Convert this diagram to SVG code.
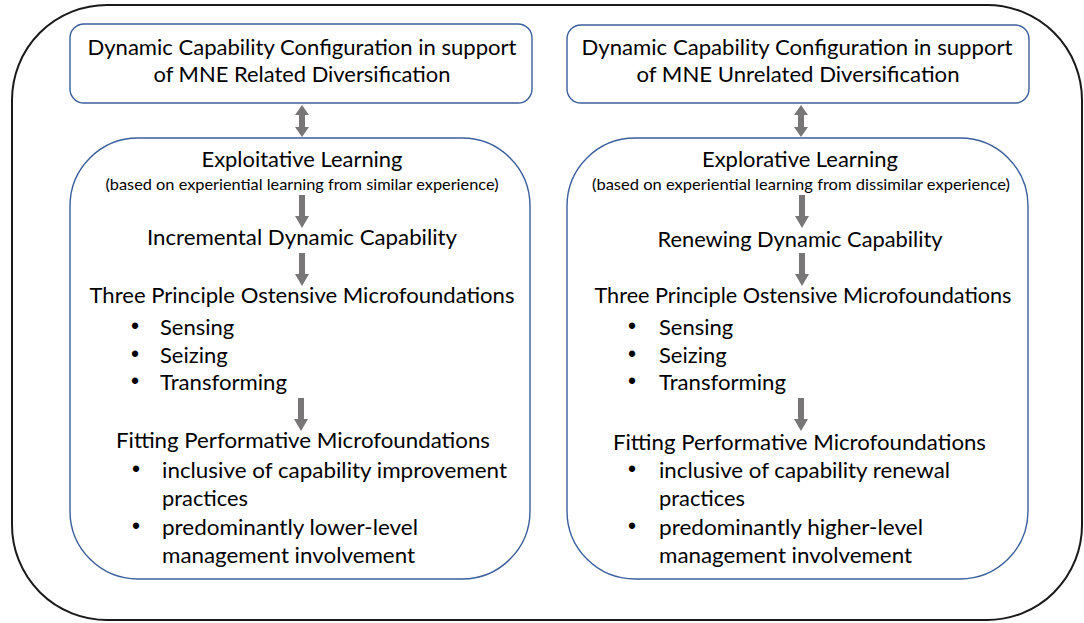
<svg xmlns="http://www.w3.org/2000/svg" xmlns:xlink="http://www.w3.org/1999/xlink" width="1084" height="623" viewBox="0 0 1084 623">
<style>
  .outer { fill: #ffffff; stroke: #1a1a1a; stroke-width: 2; }
  .box { fill: #ffffff; stroke: #3b5e9c; stroke-width: 1.4; }
  .t { font-family: Lato, "Liberation Sans", sans-serif; font-size: 22px; fill: #000000; }
  .s { font-family: Lato, "Liberation Sans", sans-serif; font-size: 15px; fill: #000000; }
  .b { font-family: "Liberation Sans", sans-serif; font-size: 23px; fill: #000000; text-anchor: middle; }
  .c { text-anchor: middle; }
  .arr { fill: #787676; }
</style>
<defs>
  <path id="down" d="M-3,0 H3 V21 H7 L0,33 L-7,21 H-3 Z"/>
  <path id="dbl" d="M0,0 L7,10 H3 V22 H7 L0,32 L-7,22 H-3 V10 H-7 Z"/>
</defs>
<rect class="outer" x="12" y="5" width="1070" height="615" rx="95" ry="95"/>

<g id="node-related-config">
  <rect class="box" x="70" y="24" width="462" height="79" rx="14" ry="14"/>
  <text class="t c" x="302" y="55" textLength="429" lengthAdjust="spacingAndGlyphs">Dynamic Capability Configuration in support</text>
  <text class="t c" x="302" y="82" textLength="297" lengthAdjust="spacingAndGlyphs">of MNE Related Diversification</text>
</g>

<g id="node-unrelated-config">
  <rect class="box" x="567" y="25" width="462" height="78" rx="14" ry="14"/>
  <text class="t c" x="797" y="55" textLength="431" lengthAdjust="spacingAndGlyphs">Dynamic Capability Configuration in support</text>
  <text class="t c" x="798" y="82" textLength="323" lengthAdjust="spacingAndGlyphs">of MNE Unrelated Diversification</text>
</g>

<g id="node-exploitative">
  <rect class="box" x="70" y="138" width="460" height="441" rx="68" ry="68"/>
  <text class="t c" x="302" y="167" textLength="201" lengthAdjust="spacingAndGlyphs">Exploitative Learning</text>
  <text class="s c" x="302" y="190" textLength="393" lengthAdjust="spacingAndGlyphs">(based on experiential learning from similar experience)</text>
  <text class="t c" x="302" y="245" textLength="310" lengthAdjust="spacingAndGlyphs">Incremental Dynamic Capability</text>
  <text class="t c" x="302" y="303" textLength="425" lengthAdjust="spacingAndGlyphs">Three Principle Ostensive Microfoundations</text>
  <text class="b" x="135" y="334">•</text>
  <text class="t" x="160" y="335">Sensing</text>
  <text class="b" x="135" y="362">•</text>
  <text class="t" x="160" y="363">Seizing</text>
  <text class="b" x="135" y="389">•</text>
  <text class="t" x="160" y="390" textLength="127" lengthAdjust="spacingAndGlyphs">Transforming</text>
  <text class="t" x="116" y="448" textLength="374" lengthAdjust="spacingAndGlyphs">Fitting Performative Microfoundations</text>
  <text class="b" x="136" y="477">•</text>
  <text class="t" x="162" y="478" textLength="345" lengthAdjust="spacingAndGlyphs">inclusive of capability improvement</text>
  <text class="t" x="162" y="506" textLength="86" lengthAdjust="spacingAndGlyphs">practices</text>
  <text class="b" x="136" y="534">•</text>
  <text class="t" x="162" y="535" textLength="256" lengthAdjust="spacingAndGlyphs">predominantly lower-level</text>
  <text class="t" x="162" y="563" textLength="253" lengthAdjust="spacingAndGlyphs">management involvement</text>
</g>

<g id="node-explorative">
  <rect class="box" x="567" y="138" width="461" height="441" rx="68" ry="68"/>
  <text class="t c" x="800" y="167" textLength="196" lengthAdjust="spacingAndGlyphs">Explorative Learning</text>
  <text class="s c" x="801" y="190" textLength="418" lengthAdjust="spacingAndGlyphs">(based on experiential learning from dissimilar experience)</text>
  <text class="t c" x="800" y="247" textLength="285" lengthAdjust="spacingAndGlyphs">Renewing Dynamic Capability</text>
  <text class="t c" x="803" y="303" textLength="417" lengthAdjust="spacingAndGlyphs">Three Principle Ostensive Microfoundations</text>
  <text class="b" x="632" y="334">•</text>
  <text class="t" x="659" y="335">Sensing</text>
  <text class="b" x="632" y="362">•</text>
  <text class="t" x="659" y="363">Seizing</text>
  <text class="b" x="632" y="389">•</text>
  <text class="t" x="659" y="390" textLength="127" lengthAdjust="spacingAndGlyphs">Transforming</text>
  <text class="t" x="613" y="450" textLength="373" lengthAdjust="spacingAndGlyphs">Fitting Performative Microfoundations</text>
  <text class="b" x="632" y="477">•</text>
  <text class="t" x="659" y="478" textLength="291" lengthAdjust="spacingAndGlyphs">inclusive of capability renewal</text>
  <text class="t" x="659" y="506" textLength="86" lengthAdjust="spacingAndGlyphs">practices</text>
  <text class="b" x="632" y="534">•</text>
  <text class="t" x="659" y="535" textLength="264" lengthAdjust="spacingAndGlyphs">predominantly higher-level</text>
  <text class="t" x="659" y="563" textLength="253" lengthAdjust="spacingAndGlyphs">management involvement</text>
</g>

<g id="connectors" class="arr">
  <use xlink:href="#dbl" x="302" y="105"/>
  <use xlink:href="#down" x="302" y="195"/>
  <use xlink:href="#down" x="302" y="253"/>
  <use xlink:href="#down" x="301" y="398"/>
  <use xlink:href="#dbl" x="801" y="105"/>
  <use xlink:href="#down" x="802" y="195"/>
  <use xlink:href="#down" x="802" y="253"/>
  <use xlink:href="#down" x="801" y="398"/>
</g>
</svg>
